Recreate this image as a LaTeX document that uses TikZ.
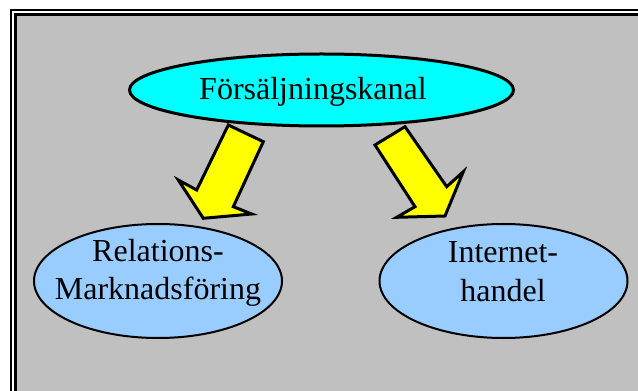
\documentclass[tikz,border=0pt]{standalone}
\usepackage{fontspec}
\setmainfont{Liberation Serif}
\usetikzlibrary{shapes.geometric}
\definecolor{slidegray}{RGB}{192,192,192}
\definecolor{kanalcyan}{RGB}{0,255,255}
\definecolor{subblue}{RGB}{153,204,255}
\definecolor{pilyellow}{RGB}{255,255,0}
\begin{document}
\begin{tikzpicture}[x=0.75pt, y=-0.75pt, every node/.style={font=\fontsize{24}{28.5}\selectfont}]
        \tikzstyle{kanalell} = [draw, ellipse, fill=kanalcyan, line width=2.25pt, minimum width=288pt, minimum height=54pt, inner sep=0pt]
        \tikzstyle{subell} = [draw, ellipse, fill=subblue, line width=1.5pt, minimum width=186pt, minimum height=85.5pt, inner sep=0pt]
        \tikzstyle{txt} = [anchor=base, align=center, inner sep=0pt]
        \tikzstyle{pil} = [draw, fill=pilyellow, line width=2.25pt, line join=miter]
        \useasboundingbox (0,0) rectangle (638,391);
        \clip (0,0) rectangle (638,391);
        % frame
        \fill[black] (10,9) rectangle (700,460);
        \fill[white] (12,11) rectangle (700,460);
        \fill[black] (14,13) rectangle (700,460);
        \fill[slidegray] (17,16) rectangle (700,460);
        % block arrows
        \draw[pil] (228.3,125) -- (263.3,141.7) -- (233.3,206.7) -- (251.7,214) -- (203.3,218.3) -- (178.3,180) -- (196.7,190) -- cycle;
        \draw[pil] (375,145) -- (405,126.7) -- (446.7,186.7) -- (463.3,171.7) -- (445,216) -- (396.7,217.3) -- (415,206.7) -- cycle;
        \node[kanalell] (kanal) at (321.5,90) {};
        \node[subell] (rel) at (158,281) {};
        \node[subell] (inet) at (503.5,281) {};
        \node[txt] (kanaltxt) at (313,100) {Försäljningskanal};
        \node[txt] (reltxt) at (158,300) {Relations-\\Marknadsföring};
        \node[txt] (inettxt) at (503,301) {Internet-\\handel};
      \end{tikzpicture}
\end{document}
